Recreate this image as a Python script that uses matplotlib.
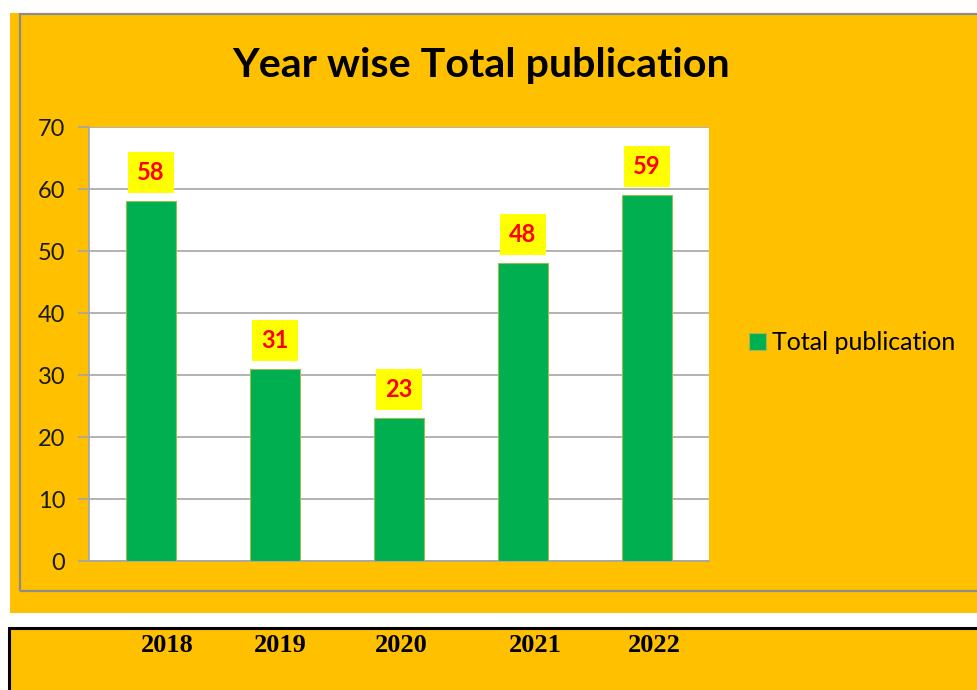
import matplotlib
matplotlib.use("Agg")
import matplotlib.pyplot as plt
from matplotlib.patches import Rectangle

years = ["2018", "2019", "2020", "2021", "2022"]
totals = [58, 31, 23, 48, 59]
series_name = "Total publication"
title = "Year wise Total publication"
yticks = [0, 10, 20, 30, 40, 50, 60, 70]

ORANGE = "#FFC000"
GREEN = "#00B050"
GRAY = "#8C8C8C"
W, H = 978, 690

plt.rcParams['font.family'] = ['Lato', 'DejaVu Sans']
fig = plt.figure(figsize=(W / 100, H / 100), dpi=100)
fig.patch.set_facecolor("white")

def fx(px):
    return px / W

def fy(py):
    return 1 - py / H

# orange chart background and gray frame
fig.patches.append(Rectangle((fx(10), fy(613)), fx(978) - fx(10), fy(13) - fy(613),
                             transform=fig.transFigure, facecolor=ORANGE, edgecolor="none", zorder=-5))
fig.patches.append(Rectangle((fx(20), fy(591)), fx(1000) - fx(20), fy(14) - fy(591),
                             transform=fig.transFigure, facecolor="none", edgecolor=GRAY,
                             linewidth=1.6, zorder=-4))
# bottom year box
fig.patches.append(Rectangle((fx(8.5), fy(700)), fx(1000) - fx(8.5), fy(628.5) - fy(700),
                             transform=fig.transFigure, facecolor=ORANGE, edgecolor="black",
                             linewidth=2.2, zorder=-5))

ax = fig.add_axes([fx(89), fy(561), fx(709) - fx(89), fy(127) - fy(561)])
ax.set_zorder(5)
ax.set_facecolor("white")
x = list(range(len(years)))
bars = ax.bar(x, totals, width=0.4, color=GREEN, edgecolor="#9BBB59", linewidth=0.8,
              zorder=3, label=series_name)
ax.set_xlim(-0.5, len(years) - 0.5)
ax.set_ylim(0, 70)
ax.set_yticks(yticks)
ax.set_yticklabels([str(v) for v in yticks], fontsize=17, color="#1a1a1a")
ax.set_xticks([])
ax.grid(axis="y", color="#A6A6A6", linewidth=1.2, zorder=0)
ax.set_axisbelow(True)
for s in ["top", "right"]:
    ax.spines[s].set_visible(False)
for s in ["left", "bottom"]:
    ax.spines[s].set_color("#A6A6A6")
    ax.spines[s].set_linewidth(1.2)
ax.tick_params(axis="y", length=8, width=1.2, color="#A6A6A6", pad=9)

for xi, v in zip(x, totals):
    ax.annotate(str(v), xy=(xi, v), xytext=(0, 20.5), textcoords="offset points",
                ha="center", va="center", fontsize=17, fontweight="bold", color="red",
                bbox=dict(boxstyle="square,pad=0.38", facecolor="yellow", edgecolor="none"),
                zorder=5)

fig.text(fx(481), fy(65), title, ha="center", va="center", fontsize=29.6, fontweight="bold",
         color="black")

leg = fig.legend(handles=[bars], labels=[series_name], loc="center left",
                 bbox_to_anchor=(fx(726), fy(343)), frameon=False, fontsize=18,
                 handlelength=0.7, handleheight=0.7, handletextpad=0.25)

year_x = [167, 280, 401, 535, 654]
for yr, px in zip(years, year_x):
    fig.text(fx(px), fy(645), yr, ha="center", va="center", fontsize=19, fontweight="bold",
             family="Liberation Serif", color="black")

fig.savefig("out.png", dpi=100, facecolor=fig.get_facecolor())
